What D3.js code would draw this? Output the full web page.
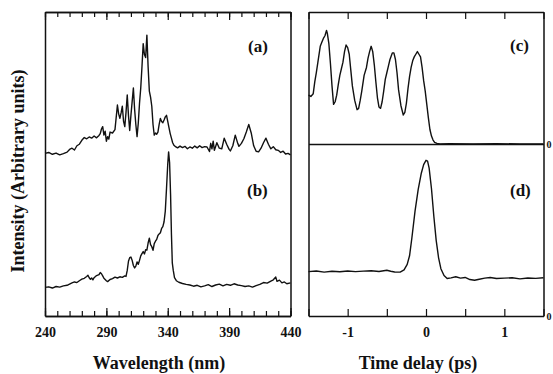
<!DOCTYPE html>
<html>
<head>
<meta charset="utf-8">
<script src="https://cdn.jsdelivr.net/npm/d3@7"></script>
<style>
body { margin: 0; background: #fff; }
svg { display: block; }
</style>
</head>
<body>
<svg width="553" height="374"></svg>
<script>
// spectra: [wavelength nm, intensity (arb.)], trace (a) is offset above (b)
let spectrumA = [
    [240, 53.5], [243, 53.8], [246, 53.2], [249, 53.6], [252, 53.0], [255, 53.4], [258, 53.9], [260, 54.8],
    [262, 55.2], [264, 54.6], [266, 56.0], [268, 56.5], [270, 57.8], [272, 58.7], [274, 58.3], [276, 58.9],
    [278, 58.5], [280, 59.2], [282, 58.6], [284, 59.4], [285, 60.0], [286, 61.5], [287, 62.3], [288, 59.5],
    [289, 60.8], [290, 57.5], [291, 59.0], [292, 58.2], [293, 60.5], [295, 60.2], [297, 61.3], [299, 69.4],
    [300, 66.5], [301, 65.0], [302, 66.8], [303, 69.0], [304, 64.0], [305, 62.3], [306, 67.0], [307, 72.7],
    [308, 66.0], [309, 61.0], [310, 66.0], [311, 70.5], [312, 75.0], [313, 68.0], [314, 63.0], [315, 59.0],
    [316, 63.5], [317, 70.0], [318, 75.0], [319, 82.0], [320, 89.6], [321, 86.0], [322, 85.0], [323, 92.4],
    [324, 82.0], [325, 74.0], [326, 72.0], [327, 69.0], [328, 63.0], [329, 59.5], [330, 60.2], [331, 59.8],
    [332, 60.5], [333, 63.0], [334, 65.0], [335, 64.0], [336, 63.6], [337, 64.5], [338, 65.5], [339, 66.0],
    [340, 64.0], [341, 62.0], [342, 60.0], [343, 58.5], [344, 57.0], [345, 56.2], [346, 55.8], [348, 55.3],
    [350, 55.9], [352, 55.4], [354, 55.8], [356, 55.0], [358, 55.6], [360, 55.2], [362, 55.9], [364, 55.3],
    [366, 56.0], [368, 55.4], [370, 55.7], [372, 55.6], [374, 54.1], [375, 56.8], [376, 55.0], [377, 57.5],
    [378, 54.5], [380, 57.0], [382, 55.2], [384, 55.0], [386, 58.5], [388, 56.5], [390, 54.8], [391, 54.3],
    [393, 56.0], [395, 59.5], [397, 56.8], [398, 55.8], [400, 56.8], [402, 58.3], [404, 60.5], [406, 63.0],
    [408, 60.2], [410, 56.0], [412, 54.2], [414, 54.0], [416, 55.2], [418, 57.0], [420, 58.5], [422, 56.5],
    [424, 55.0], [426, 55.7], [428, 54.7], [430, 54.5], [432, 53.8], [434, 54.2], [436, 53.3], [438, 53.5],
    [440, 53.0]
];

let spectrumB = [
    [240, 9.4], [243, 9.6], [246, 9.2], [249, 9.7], [252, 9.5], [255, 9.9], [258, 10.1], [260, 10.5],
    [262, 10.9], [264, 11.2], [266, 11.0], [268, 11.6], [270, 12.1], [272, 12.4], [274, 13.0], [275, 13.4],
    [276, 12.6], [277, 12.1], [278, 12.5], [279, 11.9], [280, 12.6], [282, 13.3], [284, 13.6], [285, 14.3],
    [286, 13.9], [287, 13.2], [288, 12.4], [289, 12.0], [290, 11.6], [291, 11.3], [293, 12.0], [295, 12.3],
    [297, 12.8], [299, 12.5], [301, 12.9], [303, 12.7], [305, 13.2], [306, 13.0], [307, 15.0], [308, 18.0],
    [309, 19.2], [310, 19.4], [311, 18.3], [312, 16.6], [313, 15.8], [314, 16.4], [315, 17.8], [316, 17.0],
    [317, 18.3], [318, 19.8], [319, 20.5], [320, 21.2], [321, 20.4], [322, 21.8], [323, 21.7], [324, 24.0],
    [325, 25.6], [326, 23.5], [327, 22.8], [328, 21.6], [329, 23.8], [330, 24.6], [331, 25.2], [332, 26.5],
    [333, 27.0], [334, 27.4], [335, 28.8], [336, 29.4], [337, 31.0], [338, 34.5], [339, 42.0], [340, 50.0],
    [340.7, 54.0], [341.5, 50.5], [342.3, 40.0], [343, 27.0], [343.7, 17.5], [344.5, 15.0], [345.5, 12.6],
    [347, 11.6], [349, 11.1], [352, 10.7], [355, 10.4], [358, 10.2], [361, 9.8], [364, 10.1], [367, 9.6],
    [370, 9.9], [373, 10.3], [376, 9.7], [379, 10.2], [382, 10.5], [385, 9.9], [388, 10.4], [391, 10.1],
    [394, 10.6], [397, 10.2], [400, 10.0], [403, 9.7], [406, 9.9], [409, 9.5], [412, 10.0], [415, 10.4],
    [418, 11.0], [421, 10.8], [424, 11.5], [426, 11.9], [428, 12.8], [429, 11.4], [431, 11.8], [433, 10.9],
    [435, 11.2], [437, 10.6], [440, 10.9]
];

// cross-correlation traces: [delay ps, normalised signal]
let traceC = [
    [-1.50, 0.37], [-1.47, 0.36], [-1.44, 0.38], [-1.42, 0.47], [-1.40, 0.54], [-1.38, 0.62], [-1.35, 0.74],
    [-1.33, 0.77], [-1.31, 0.80], [-1.29, 0.82], [-1.27, 0.86], [-1.26, 0.84], [-1.24, 0.76], [-1.22, 0.61],
    [-1.20, 0.44], [-1.18, 0.30], [-1.16, 0.32], [-1.14, 0.37], [-1.12, 0.45], [-1.10, 0.52], [-1.08, 0.57],
    [-1.06, 0.62], [-1.04, 0.70], [-1.02, 0.75], [-1.00, 0.73], [-0.98, 0.68], [-0.96, 0.56], [-0.94, 0.44],
    [-0.91, 0.33], [-0.88, 0.26], [-0.86, 0.27], [-0.84, 0.33], [-0.82, 0.40], [-0.79, 0.52], [-0.76, 0.58],
    [-0.74, 0.65], [-0.72, 0.70], [-0.70, 0.74], [-0.68, 0.70], [-0.66, 0.60], [-0.64, 0.47], [-0.62, 0.35],
    [-0.60, 0.28], [-0.58, 0.27], [-0.56, 0.32], [-0.54, 0.40], [-0.52, 0.49], [-0.50, 0.54], [-0.48, 0.59],
    [-0.46, 0.64], [-0.43, 0.69], [-0.41, 0.69], [-0.39, 0.64], [-0.37, 0.54], [-0.35, 0.41], [-0.32, 0.29],
    [-0.29, 0.22], [-0.27, 0.24], [-0.25, 0.31], [-0.23, 0.42], [-0.21, 0.51], [-0.19, 0.58], [-0.17, 0.63],
    [-0.15, 0.66], [-0.13, 0.68], [-0.11, 0.70], [-0.09, 0.68], [-0.07, 0.66], [-0.05, 0.58], [-0.03, 0.48],
    [-0.01, 0.40], [0.01, 0.30], [0.03, 0.20], [0.05, 0.11], [0.07, 0.06], [0.09, 0.03], [0.11, 0.012],
    [0.14, 0.004], [0.18, 0], [0.30, 0.002], [0.60, 0], [0.90, 0.003], [1.20, 0], [1.50, 0]
];

let traceD = [
    [-1.50, 0.258], [-1.40, 0.262], [-1.30, 0.255], [-1.20, 0.260], [-1.10, 0.257], [-1.00, 0.262],
    [-0.90, 0.258], [-0.80, 0.261], [-0.70, 0.263], [-0.60, 0.259], [-0.50, 0.266], [-0.45, 0.260],
    [-0.40, 0.256], [-0.33, 0.255], [-0.28, 0.268], [-0.24, 0.300], [-0.21, 0.350], [-0.18, 0.455],
    [-0.14, 0.610], [-0.10, 0.735], [-0.06, 0.830], [-0.03, 0.880], [0.00, 0.905], [0.02, 0.900],
    [0.04, 0.860], [0.07, 0.740], [0.10, 0.580], [0.13, 0.440], [0.16, 0.340], [0.19, 0.275],
    [0.23, 0.235], [0.27, 0.218], [0.32, 0.222], [0.38, 0.228], [0.44, 0.220], [0.50, 0.224],
    [0.56, 0.212], [0.62, 0.208], [0.68, 0.214], [0.75, 0.220], [0.82, 0.224], [0.90, 0.218],
    [1.00, 0.220], [1.10, 0.222], [1.20, 0.216], [1.30, 0.221], [1.40, 0.219], [1.50, 0.222]
];

let wlMajor = [240, 290, 340, 390, 440];
let wlMinor = d3.range(240, 441, 10);
let tTicks = [-1.5, -1, -0.5, 0, 0.5, 1, 1.5];
let panelLetters = [["(a)", 248, 52], ["(b)", 247, 196], ["(c)", 510, 51], ["(d)", 510, 196]];
let edgeZeros = [148, 320];

let svg = d3.select("svg");
let font = "'Liberation Serif', 'Times New Roman', serif";
let ink = "#111";

let xL = d3.scaleLinear().domain([240, 440]).range([45, 290.5]);
let yL = d3.scaleLinear().domain([0, 100]).range([316, 12]);
let xR = d3.scaleLinear().domain([-1.5, 1.5]).range([308.5, 543.5]);
let yC = d3.scaleLinear().domain([0, 1]).range([144, 12]);
let yD = d3.scaleLinear().domain([0, 1]).range([316, 144]);
let yFrame = d3.scaleLinear().domain([0, 1]).range([316, 12]);

function styleAxis(g) {
    g.attr("font-family", font).attr("font-size", 14).attr("font-weight", "bold");
    g.select(".domain").attr("stroke", ink).attr("stroke-width", 1.5);
    g.selectAll(".tick line").attr("stroke", ink).attr("stroke-width", 1.2);
    g.selectAll(".tick text").attr("fill", ink);
}

function addAxis(axis, tx, ty) {
    svg.append("g")
        .attr("transform", "translate(" + tx + "," + ty + ")")
        .call(axis)
        .call(styleAxis);
}

// left panel frame + ticks
addAxis(d3.axisBottom(xL).tickValues(wlMinor).tickSize(-5).tickSizeOuter(0).tickFormat(""), 0, 316);
addAxis(d3.axisBottom(xL).tickValues(wlMajor).tickSize(-8).tickSizeOuter(0).tickPadding(11).tickFormat(d3.format("d")), 0, 316);
addAxis(d3.axisTop(xL).tickValues(wlMinor).tickSize(-5).tickSizeOuter(0).tickFormat(""), 0, 12);
addAxis(d3.axisTop(xL).tickValues(wlMajor).tickSize(-8).tickSizeOuter(0).tickFormat(""), 0, 12);
addAxis(d3.axisLeft(yFrame).tickValues([]).tickSizeOuter(0), 45, 0);
addAxis(d3.axisRight(yFrame).tickValues([]).tickSizeOuter(0), 290.5, 0);

// right panel frame + ticks
addAxis(d3.axisBottom(xR).tickValues(tTicks).tickSize(-7).tickSizeOuter(0).tickPadding(11)
    .tickFormat(d => Number.isInteger(d) ? String(d) : ""), 0, 316);
addAxis(d3.axisTop(xR).tickValues(tTicks).tickSize(-7).tickSizeOuter(0).tickFormat(""), 0, 12);
addAxis(d3.axisBottom(xR).tickValues([]).tickSizeOuter(0), 0, 144);
addAxis(d3.axisLeft(yFrame).tickValues([]).tickSizeOuter(0), 308.5, 0);
addAxis(d3.axisRight(yFrame).tickValues([]).tickSizeOuter(0), 543.5, 0);

// traces
let lineL = d3.line().x(d => xL(d[0])).y(d => yL(d[1]));
let lineC = d3.line().x(d => xR(d[0])).y(d => yC(d[1]));
let lineD = d3.line().x(d => xR(d[0])).y(d => yD(d[1]));

[[spectrumA, lineL], [spectrumB, lineL], [traceC, lineC], [traceD, lineD]].forEach(function (p) {
    svg.append("path")
        .datum(p[0])
        .attr("fill", "none")
        .attr("stroke", ink)
        .attr("stroke-width", 1.4)
        .attr("stroke-linejoin", "round")
        .attr("d", p[1]);
});

// panel letters
svg.selectAll(".letter")
    .data(panelLetters)
    .enter().append("text")
    .attr("class", "letter")
    .attr("x", d => d[1])
    .attr("y", d => d[2])
    .attr("font-family", font)
    .attr("font-size", 17)
    .attr("font-weight", "bold")
    .attr("fill", ink)
    .text(d => d[0]);

// small zero labels at the right edge
svg.selectAll(".edge-zero")
    .data(edgeZeros)
    .enter().append("text")
    .attr("class", "edge-zero")
    .attr("x", 546.5)
    .attr("y", d => d)
    .attr("font-family", font)
    .attr("font-size", 10)
    .attr("font-weight", "bold")
    .attr("fill", ink)
    .text("0");

// axis titles
svg.append("text")
    .attr("x", 159).attr("y", 369)
    .attr("text-anchor", "middle")
    .attr("font-family", font).attr("font-size", 18).attr("font-weight", "bold").attr("fill", ink)
    .text("Wavelength (nm)");
svg.append("text")
    .attr("x", 418).attr("y", 369)
    .attr("text-anchor", "middle")
    .attr("font-family", font).attr("font-size", 18).attr("font-weight", "bold").attr("fill", ink)
    .text("Time delay (ps)");
svg.append("text")
    .attr("transform", "translate(24,171) rotate(-90)")
    .attr("text-anchor", "middle")
    .attr("font-family", font).attr("font-size", 18).attr("font-weight", "bold").attr("fill", ink)
    .text("Intensity (Arbitrary units)");
</script>
</body>
</html>
